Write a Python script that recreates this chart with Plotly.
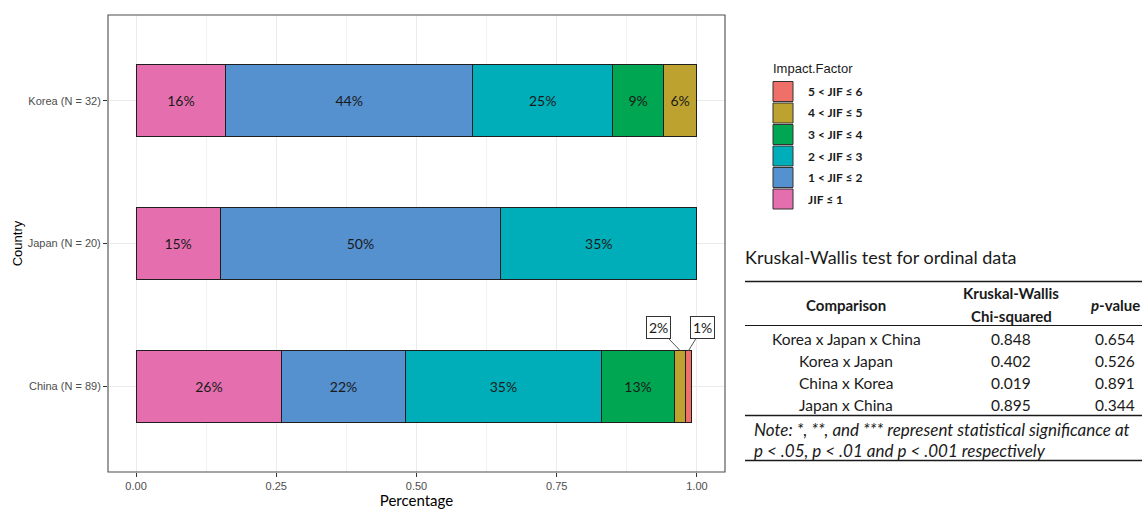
import plotly.graph_objects as go

# ---- data -------------------------------------------------------------
countries = ["China (N = 89)", "Japan (N = 20)", "Korea (N = 32)"]
jif_levels = ["JIF ≤ 1", "1 < JIF ≤ 2", "2 < JIF ≤ 3", "3 < JIF ≤ 4", "4 < JIF ≤ 5", "5 < JIF ≤ 6"]
level_colors = ["#E56FAE", "#5590CF", "#00AEB9", "#00A651", "#BEA22F", "#EF7069"]

# share of journals per impact-factor band, one list per band (China, Japan, Korea)
share_jif_le1 = [0.26, 0.15, 0.16]
share_jif_1_2 = [0.22, 0.50, 0.44]
share_jif_2_3 = [0.35, 0.35, 0.25]
share_jif_3_4 = [0.13, None, 0.09]
share_jif_4_5 = [0.02, None, 0.06]
share_jif_5_6 = [0.01, None, None]
shares = [share_jif_le1, share_jif_1_2, share_jif_2_3, share_jif_3_4, share_jif_4_5, share_jif_5_6]

# segments labelled with a call-out box instead of inside the bar: (level index, country index)
callouts = [(4, 0), (5, 0)]

x_ticks = [0.0, 0.25, 0.5, 0.75, 1.0]
x_tick_labels = ["0.00", "0.25", "0.50", "0.75", "1.00"]

table_title = "Kruskal-Wallis test for ordinal data"
comparisons = ["Korea x Japan x China", "Korea x Japan", "China x Korea", "Japan x China"]
chi_squared = ["0.848", "0.402", "0.019", "0.895"]
p_values = ["0.654", "0.526", "0.891", "0.344"]
note_lines = ["Note: *, **, and *** represent statistical significance at",
              "p < .05, p < .01 and p < .001 respectively"]

# ---- layout helpers ---------------------------------------------------
W, H = 1142, 509
BAR_W = 0.5
CAL = "Lato, 'Open Sans', sans-serif"
ARIAL = "'Liberation Sans', Arial, sans-serif"


def px(x):
    return x / W


def py(y):
    return 1 - y / H


def paper_text(x, y, text, font, xanchor="center"):
    fig.add_annotation(x=px(x), y=py(y), xref="paper", yref="paper",
                       xanchor=xanchor, yanchor="middle", showarrow=False,
                       text=text, font=font)


fig = go.Figure()

for li, (name, vals, col) in enumerate(zip(jif_levels, shares, level_colors)):
    texts = []
    for ci, v in enumerate(vals):
        if v is None or (li, ci) in callouts:
            texts.append("")
        else:
            texts.append(f"{round(v * 100)}%")
    fig.add_trace(go.Bar(
        y=countries, x=vals, name=name, orientation="h", width=BAR_W,
        marker=dict(color=col, line=dict(color="#1E1E1E", width=1)),
        text=texts, textposition="inside", insidetextanchor="middle",
        textangle=0, textfont=dict(family=CAL, size=14, color="#1A1A1A"),
        constraintext="none", cliponaxis=False, showlegend=False,
    ))

# call-out labels for the thin segments
for li, ci in callouts:
    start = sum((shares[k][ci] or 0) for k in range(li))
    v = shares[li][ci]
    fig.add_annotation(
        x=start + v / 2, y=ci + BAR_W / 2, xref="x", yref="y",
        text=f"{round(v * 100)}%", showarrow=True, arrowhead=0, arrowwidth=1,
        arrowcolor="#555555", ax=-22 if li == 4 else 14, ay=-23,
        font=dict(family=CAL, size=14, color="#1A1A1A"),
        bgcolor="white", bordercolor="#333333", borderwidth=1, borderpad=2,
    )

fig.update_layout(
    width=W, height=H, barmode="stack", bargap=0.5,
    margin=dict(l=0, r=0, t=0, b=0),
    paper_bgcolor="white", plot_bgcolor="white",
    xaxis=dict(
        domain=[px(108), px(725)], range=[-0.05, 1.05],
        tickvals=x_ticks, ticktext=x_tick_labels,
        tickfont=dict(family=ARIAL, size=11, color="#4D4D4D"),
        ticks="outside", ticklen=4, tickcolor="#333333",
        showgrid=True, gridcolor="#EBEBEB", gridwidth=1,
        minor=dict(dtick=0.125, tick0=0, showgrid=True, gridcolor="#F2F2F2", gridwidth=0.6),
        zeroline=False, showline=False,
        title=dict(text="Percentage", font=dict(family=CAL, size=15, color="black"), standoff=4),
    ),
    yaxis=dict(
        domain=[py(472), py(15)], range=[-0.6, 2.6],
        categoryorder="array", categoryarray=countries,
        tickfont=dict(family=ARIAL, size=11, color="#4D4D4D"),
        ticks="outside", ticklen=4, tickcolor="#333333",
        showgrid=True, gridcolor="#EBEBEB", gridwidth=1,
        zeroline=False, showline=False,
        title=dict(text="Country", font=dict(family=ARIAL, size=13, color="black"), standoff=2),
    ),
)

# panel border
fig.add_shape(type="rect", xref="paper", yref="paper",
              x0=px(108), x1=px(725), y0=py(472), y1=py(15),
              line=dict(color="#4D4D4D", width=1.1), fillcolor="rgba(0,0,0,0)", layer="above")

# ---- legend -----------------------------------------------------------
paper_text(771, 68, "Impact.Factor", dict(family=ARIAL, size=13, color="#1A1A1A"), xanchor="left")
for k, (name, col) in enumerate(zip(jif_levels[::-1], level_colors[::-1])):
    top = 81.5 + k * 21.5
    fig.add_shape(type="rect", xref="paper", yref="paper",
                  x0=px(773), x1=px(793), y0=py(top + 20), y1=py(top),
                  fillcolor=col, line=dict(color="#333333", width=1))
    paper_text(806, top + 10, f"<b>{name}</b>",
               dict(family=CAL, size=12, color="#1A1A1A"), xanchor="left")

# ---- statistics table -------------------------------------------------
paper_text(743, 257, table_title, dict(family=CAL, size=18, color="#1A1A1A"), xanchor="left")

col_x = [846, 1011, 1115]
for y0, w in [(281.5, 1.6), (325.5, 1.1), (415.5, 1.6), (460.5, 1.3)]:
    fig.add_shape(type="line", xref="paper", yref="paper",
                  x0=px(745), x1=px(1142), y0=py(y0), y1=py(y0),
                  line=dict(color="#1A1A1A", width=w))

head_font = dict(family=CAL, size=15, color="#1A1A1A")
paper_text(col_x[0], 305, "<b>Comparison</b>", head_font)
paper_text(col_x[1], 293, "<b>Kruskal-Wallis</b>", head_font)
paper_text(col_x[1], 316, "<b>Chi-squared</b>", head_font)
paper_text(col_x[2], 305, "<b><i>p</i>-value</b>", head_font)

row_font = dict(family=CAL, size=15.5, color="#1A1A1A")
for r, (c, chi, p) in enumerate(zip(comparisons, chi_squared, p_values)):
    for cx, t in zip(col_x, [c, chi, p]):
        paper_text(cx, 339 + r * 22, t, row_font)

for r, t in enumerate(note_lines):
    paper_text(752, 429 + r * 21.5, f"<i>{t}</i>",
               dict(family=CAL, size=17, color="#1A1A1A"), xanchor="left")

fig.write_html("out.html")
